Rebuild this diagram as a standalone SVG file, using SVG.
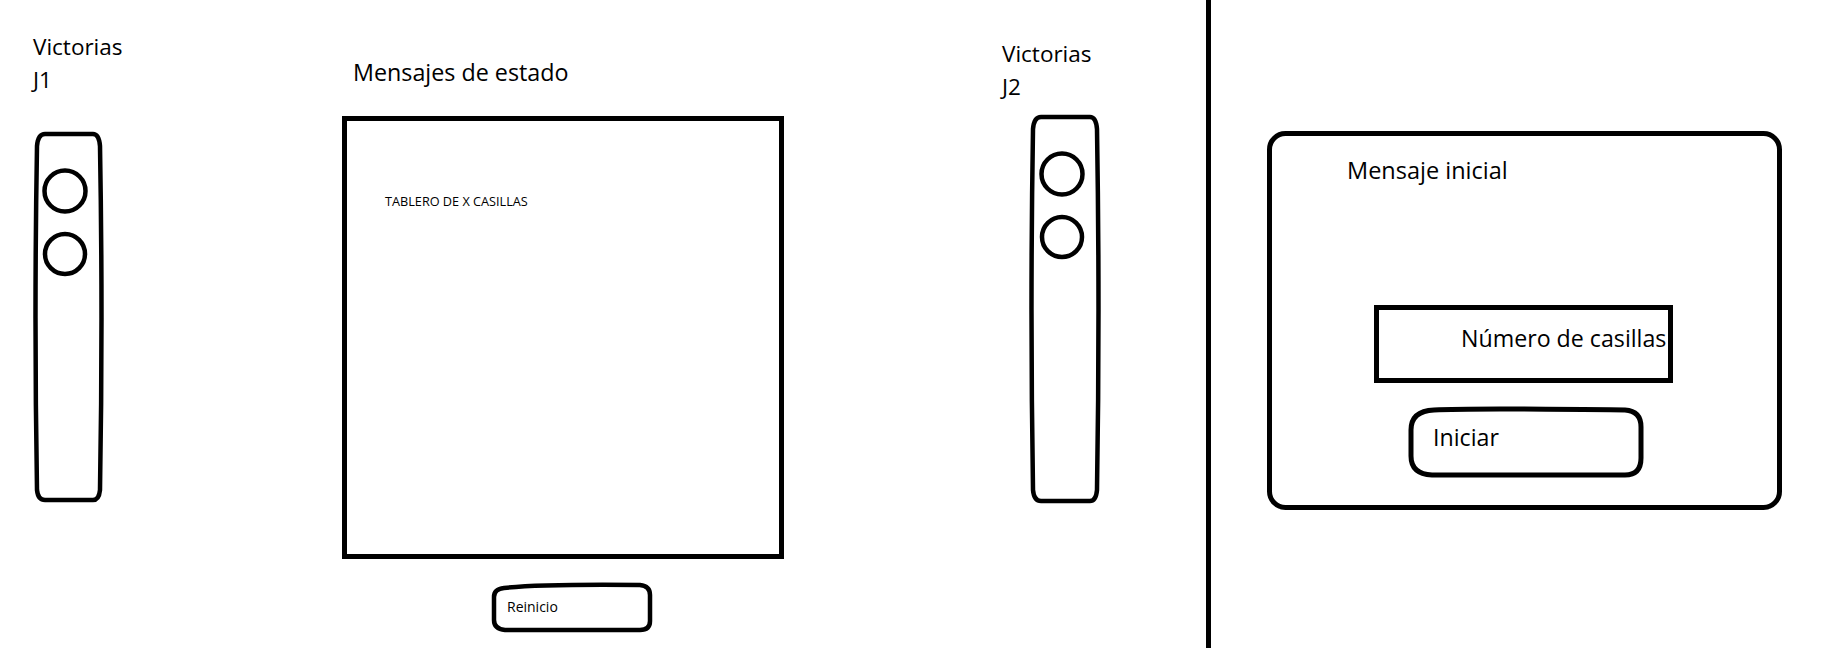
<svg xmlns="http://www.w3.org/2000/svg" width="1831" height="648" viewBox="0 0 1831 648">
<style>
.ln{fill:none;stroke:#000;stroke-width:4.5;stroke-linejoin:round}
.bx{fill:none;stroke:#000;stroke-width:5}
.t{font-family:"Open Sans","Noto Sans","Liberation Sans",sans-serif;fill:#000}
</style>
<rect x="0" y="0" width="1831" height="648" fill="#fff"/>
<g id="victorias-j1">
<text class="t" x="33" y="55" font-size="22.5">Victorias</text>
<text class="t" x="33" y="88" font-size="22.5">J1</text>
<path class="ln" d="M45 134 L93 134 Q99 134 100 146 Q103 318 100 490 Q99 500 93 500 L45 500 Q38 500 37 490 Q34 318 37 146 Q38 134 45 134 Z"/>
<circle class="ln" cx="65" cy="191" r="20.5"/>
<circle class="ln" cx="65" cy="254" r="20"/>
</g>
<g id="mensajes-estado">
<text class="t" x="353" y="81" font-size="23.3">Mensajes de estado</text>
</g>
<g id="tablero">
<rect class="bx" x="344.5" y="118.5" width="437" height="438"/>
<text class="t" x="385" y="206" font-size="12.7">TABLERO DE X CASILLAS</text>
</g>
<g id="reinicio">
<path class="ln" d="M504 588 Q540 584 640 585 Q650 586 650 595 L650 621 Q650 630 640 630 L505 630 Q494 629 494 620 L494 597 Q494 589 504 588 Z"/>
<text class="t" x="507" y="612" font-size="14">Reinicio</text>
</g>
<g id="victorias-j2">
<text class="t" x="1002" y="62" font-size="22.5">Victorias</text>
<text class="t" x="1002" y="95" font-size="22.5">J2</text>
<path class="ln" d="M1041 117 L1090 117 Q1096 117 1097 129 Q1100 310 1097 490 Q1096 501 1090 501 L1041 501 Q1034 501 1033 490 Q1030 310 1033 129 Q1034 117 1041 117 Z"/>
<circle class="ln" cx="1062" cy="174" r="20.5"/>
<circle class="ln" cx="1062" cy="237" r="20"/>
</g>
<g id="separador">
<line x1="1208.5" y1="0" x2="1208.5" y2="648" stroke="#000" stroke-width="5"/>
</g>
<g id="panel-inicio">
<rect class="bx" x="1269.5" y="133.5" width="510" height="374" rx="16"/>
<text class="t" x="1347" y="179" font-size="23.5">Mensaje inicial</text>
</g>
<g id="numero-casillas">
<rect class="bx" x="1376.5" y="307.5" width="294" height="73"/>
<text class="t" x="1461" y="347" font-size="23.2">Número de casillas</text>
</g>
<g id="iniciar">
<path class="bx" d="M1434 410 Q1470 408 1625 410 Q1641 411 1641 427 L1641 458 Q1641 475 1625 475 L1432 475 Q1411 474 1411 456 L1411 430 Q1411 411 1434 410 Z"/>
<text class="t" x="1433" y="446" font-size="23.2">Iniciar</text>
</g>
</svg>
